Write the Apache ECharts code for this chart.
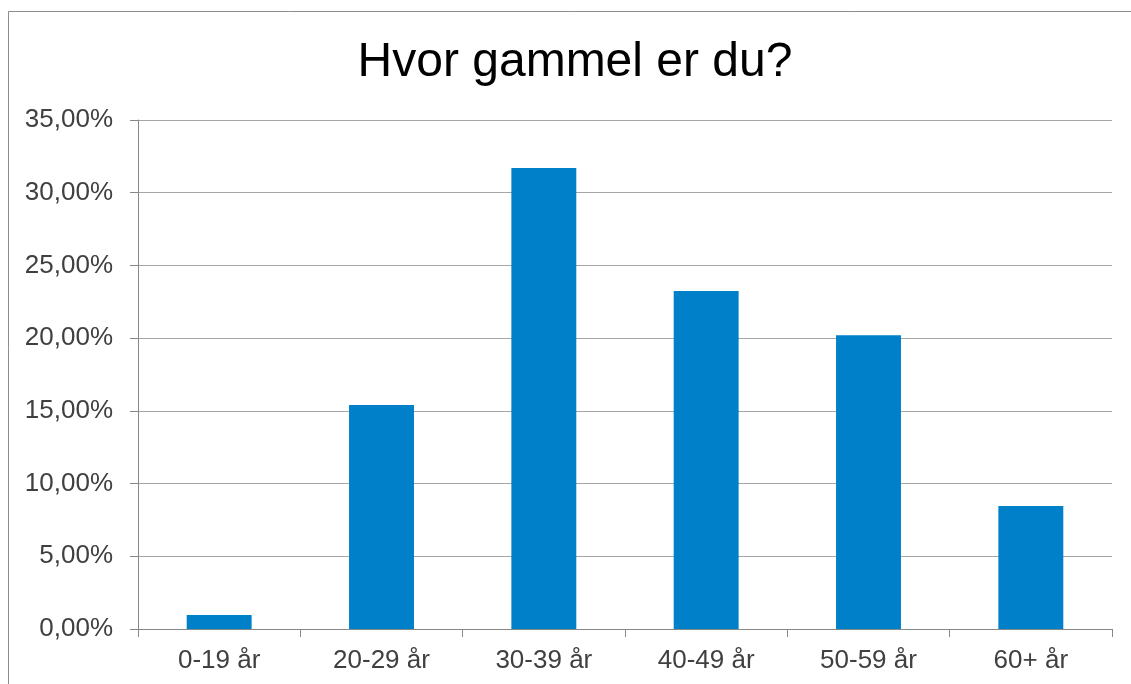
<!DOCTYPE html>
<html>
<head>
<meta charset="utf-8">
<script src="https://cdn.jsdelivr.net/npm/echarts@6/dist/echarts.min.js"></script>
<style>
html, body { margin: 0; padding: 0; background: #fff; }
#main { width: 1131px; height: 684px; }
</style>
</head>
<body>
<div id="main"></div>
<script>
var categories = ['0-19 år', '20-29 år', '30-39 år', '40-49 år', '50-59 år', '60+ år'];
var shares = [0.96, 15.40, 31.70, 23.25, 20.20, 8.45];
var yTicks = [0, 5, 10, 15, 20, 25, 30, 35];

var chart = echarts.init(document.getElementById('main'));

var option = {
	animation: false,
	textStyle: { fontFamily: 'Liberation Sans, Arial, sans-serif' },
	title: {
		text: 'Hvor gammel er du?',
		left: 570,
		top: 34,
		textAlign: 'center',
		textStyle: { fontSize: 48, fontWeight: 'normal', color: '#000' }
	},
	graphic: [{
		type: 'rect',
		shape: { x: 8.5, y: 11.5, width: 1140, height: 700 },
		style: { fill: 'none', stroke: '#8c8c8c', lineWidth: 1 },
		silent: true
	}],
	grid: { left: 138, right: 19, top: 120, bottom: 55 },
	xAxis: {
		type: 'category',
		data: categories,
		axisLine: { lineStyle: { color: '#888', width: 1 } },
		axisTick: { show: true, length: 8, lineStyle: { color: '#888' } },
		axisLabel: { fontSize: 26, color: '#404040', margin: 19 }
	},
	yAxis: {
		type: 'value',
		min: yTicks[0],
		max: yTicks[yTicks.length - 1],
		interval: 5,
		axisLine: { show: true, lineStyle: { color: '#888', width: 1 } },
		axisTick: { show: true, length: 8, lineStyle: { color: '#888' } },
		splitLine: { lineStyle: { color: '#a6a6a6', width: 1 } },
		axisLabel: {
			fontSize: 26,
			color: '#404040',
			margin: 25,
			formatter: function (v) {
				return v.toFixed(2).replace('.', ',') + '%';
			}
		}
	},
	series: [{
		type: 'bar',
		data: shares,
		barWidth: '40%',
		itemStyle: { color: '#0080c8' }
	}]
};

chart.setOption(option);
</script>
</body>
</html>
